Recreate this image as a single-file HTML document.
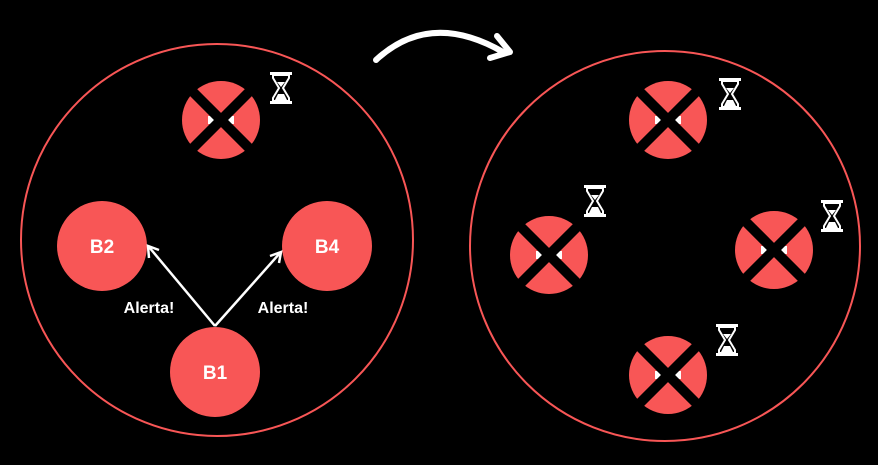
<!DOCTYPE html>
<html><head><meta charset="utf-8"><style>
html,body{margin:0;padding:0;background:#000;width:878px;height:465px;overflow:hidden}
text{font-family:"Liberation Sans",sans-serif;font-weight:bold;fill:#fff}
</style></head><body>
<svg width="878" height="465" viewBox="0 0 878 465">
<defs>
<g id="hg">
<rect x="-11" y="-16" width="22" height="3" fill="#fff"/>
<rect x="-11" y="13" width="22" height="3" fill="#fff"/>
<path d="M-8,-13 L8,-13 L8,-10 L2,0 L8,10 L8,13 L-8,13 L-8,10 L-2,0 L-8,-10 Z" fill="none" stroke="#fff" stroke-width="2"/>
<path d="M-6,12 L6,12 L3,6 L-3,6 Z" fill="#fff"/>
<path d="M-4,-6 L4,-6 L0,-1 Z" fill="#fff"/>
</g>
<g id="dead">
<circle r="39" fill="#f85656"/>
<rect x="-13" y="-4" width="26" height="8" fill="#fff"/>
<line x1="-29" y1="-29" x2="29" y2="29" stroke="#000" stroke-width="10"/>
<line x1="29" y1="-29" x2="-29" y2="29" stroke="#000" stroke-width="10"/>
</g>
</defs>
<circle cx="217" cy="240" r="196" fill="none" stroke="#f85656" stroke-width="2"/>
<circle cx="665" cy="246" r="195" fill="none" stroke="#f85656" stroke-width="2"/>
<path d="M376,60 Q430,10 503,52" fill="none" stroke="#fff" stroke-width="6" stroke-linecap="round"/>
<path d="M497,36 L510,52 L490,58" fill="none" stroke="#fff" stroke-width="6" stroke-linecap="round" stroke-linejoin="round"/>
<use href="#dead" x="221" y="120"/>
<use href="#hg" x="281" y="88"/>
<g><circle cx="102" cy="246" r="45" fill="#f85656"/><text x="102" y="253" font-size="19" text-anchor="middle">B2</text></g>
<g><circle cx="327" cy="246" r="45" fill="#f85656"/><text x="327" y="253" font-size="19" text-anchor="middle">B4</text></g>
<g><circle cx="215" cy="372" r="45" fill="#f85656"/><text x="215" y="379" font-size="19" text-anchor="middle">B1</text></g>
<g stroke="#fff" stroke-width="2.5" fill="none">
<line x1="215" y1="326" x2="149" y2="247"/><path d="M149,258 L148,246 L159,250"/>
<line x1="215" y1="326" x2="280" y2="253"/><path d="M270,256 L281,252 L279,263"/>
</g>
<text x="149" y="313" font-size="16" text-anchor="middle">Alerta!</text>
<text x="283" y="313" font-size="16" text-anchor="middle">Alerta!</text>
<use href="#dead" x="668" y="120"/>
<use href="#hg" x="730" y="94"/>
<use href="#dead" x="549" y="255"/>
<use href="#hg" x="595" y="201"/>
<use href="#dead" x="774" y="250"/>
<use href="#hg" x="832" y="216"/>
<use href="#dead" x="668" y="375"/>
<use href="#hg" x="727" y="340"/>
</svg>
</body></html>
